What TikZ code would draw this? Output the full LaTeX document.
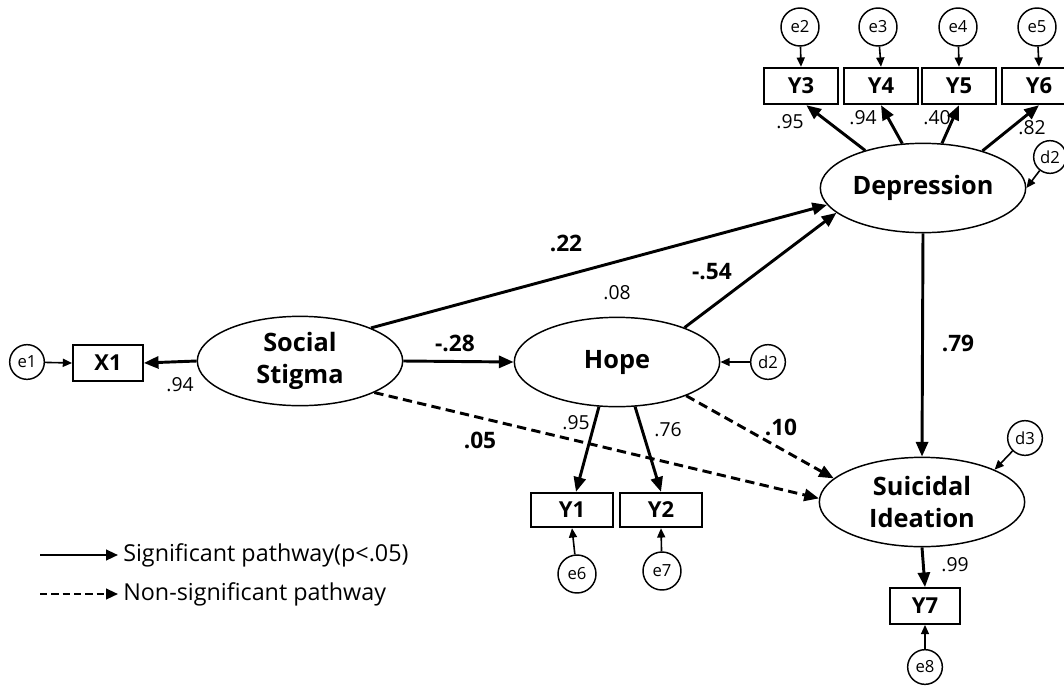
\documentclass[tikz,border=0pt]{standalone}
\usepackage{fontspec}
\setmainfont{Open Sans}
\usetikzlibrary{arrows.meta,shapes.geometric}
\begin{document}
\begin{tikzpicture}[x=0.75pt,y=-0.75pt,
  lat/.style={ellipse,draw,line width=1.1pt,minimum width=154pt,minimum height=67pt,inner sep=0pt,align=center,font=\fontsize{19}{24.5}\selectfont\bfseries},
  obs/.style={rectangle,draw,line width=1.3pt,minimum width=55pt,minimum height=27.5pt,inner sep=0pt,font=\fontsize{16.5}{18}\selectfont\bfseries},
  err/.style={circle,draw,line width=1.1pt,minimum size=28.5pt,inner sep=0pt,font=\fontsize{12.5}{13}\selectfont},
  sigp/.style={line width=2.2pt,-{Triangle[length=11pt,width=9pt]}},
  nsig/.style={sigp,dash pattern=on 7pt off 4pt},
  errarr/.style={line width=1.2pt,-{Triangle[length=7pt,width=6pt]}},
  big/.style={font=\fontsize{17}{19}\selectfont\bfseries},
  small/.style={font=\fontsize{14.5}{16}\selectfont},
  legtext/.style={anchor=west,font=\fontsize{17.5}{19}\selectfont,inner sep=0pt},
]
\useasboundingbox (0,0) rectangle (1064,686);

% latent variables
\node[lat] (ss) at (300,361) {Social\\Stigma};
\node[lat] (hope) at (617,362) {Hope};
\node[lat] (dep) at (923,188) {Depression};
\node[lat] (si) at (922,502) {Suicidal\\Ideation};

% observed variables
\node[obs,minimum width=52.5pt,minimum height=27pt] (x1) at (108,363) {X1};
\node[obs] (y3) at (801,86) {Y3};
\node[obs] (y4) at (881,86) {Y4};
\node[obs] (y5) at (959,86) {Y5};
\node[obs] (y6) at (1039,86) {Y6};
\node[obs,minimum width=61pt,minimum height=26pt] (y1) at (572,510) {Y1};
\node[obs,minimum width=61pt,minimum height=26pt] (y2) at (661,510) {Y2};
\node[obs,minimum width=53pt,minimum height=27pt] (y7) at (925,606) {Y7};

% error terms
\node[err,minimum size=26pt] (e1) at (27,362) {e1};
\node[err] (e2) at (800,27) {e2};
\node[err] (e3) at (878,27) {e3};
\node[err] (e4) at (958,27) {e4};
\node[err] (e5) at (1037,27) {e5};
\node[err] (e6) at (577,574) {e6};
\node[err] (e7) at (662,571) {e7};
\node[err,minimum size=26pt] (e8) at (925,667) {e8};
\node[err,minimum size=24.5pt] (d2a) at (1050,157) {d2};
\node[err,minimum size=26pt] (d2b) at (768,362) {d2};
\node[err,minimum size=26pt] (d3) at (1025,438) {d3};

% structural paths
\draw[sigp] (ss.west) -- (x1.east);
\draw[sigp] (ss.east) -- (hope.west);
\draw[sigp] (ss.25) -- (dep.190);
\draw[sigp] (hope.27) -- (dep.196);
\draw[sigp] (dep.south) -- (si.north);
\draw[nsig] (hope.-26) -- (si.165);
\draw[nsig] (ss.-23) -- (si.178);

% loadings
\draw[sigp] (hope.248) -- ([xshift=3pt]y1.north);
\draw[sigp] (hope.292) -- (y2.north);
\draw[sigp] (dep.147) -- ([xshift=4pt]y3.south);
\draw[sigp] (dep.115) -- (y4.south);
\draw[sigp] (dep.67) -- (y5.south);
\draw[sigp] (dep.32) -- (y6.south);
\draw[sigp] (si.south) -- (y7.north);

% error arrows
\draw[errarr] (e1) -- (x1.west);
\draw[errarr] (e2) -- (y3.north);
\draw[errarr] (e3) -- (y4.north);
\draw[errarr] (e4) -- (y5.north);
\draw[errarr] (e5) -- (y6.north);
\draw[errarr] (e6) -- (y1.south);
\draw[errarr] (e7) -- (y2.south);
\draw[errarr] (e8) -- (y7.south);
\draw[errarr] (d2a) -- (dep.east);
\draw[errarr] (d2b) -- (hope.east);
\draw[errarr] (d3) -- (si.24);

% coefficients
\node[big] (l22) at (566,243) {.22};
\node[big] (l28) at (455,343) {-.28};
\node[big] (l54) at (712,272) {-.54};
\node[big] (l79) at (958,343) {.79};
\node[big] (l10) at (781,427) {.10};
\node[big] (l05) at (480,440) {.05};
\node[small] (l08) at (617,293) {.08};
\node[small] (lx1) at (180,385) {.94};
\node[small] (ly1) at (576,423) {.95};
\node[small] (ly2) at (668,430) {.76};
\node[small] (ly3) at (790,122) {.95};
\node[small] (ly4) at (863,118) {.94};
\node[small] (ly5) at (937,118) {.40};
\node[small] (ly6) at (1032,128) {.82};
\node[small] (ly7) at (955,565) {.99};

% legend
\coordinate (la1) at (40,555);
\coordinate (la2) at (118,555);
\coordinate (lb1) at (40,594);
\coordinate (lb2) at (118,594);
\draw[sigp,line width=1.6pt,-{Triangle[length=9pt,width=8pt]}] (la1) -- (la2);
\draw[sigp,line width=1.6pt,dash pattern=on 5.5pt off 3pt,-{Triangle[length=9pt,width=8pt]}] (lb1) -- (lb2);
\node[legtext] (lt1) at (123,555) {Significant pathway(p<.05)};
\node[legtext] (lt2) at (123,594) {Non-significant pathway};
\end{tikzpicture}
\end{document}
